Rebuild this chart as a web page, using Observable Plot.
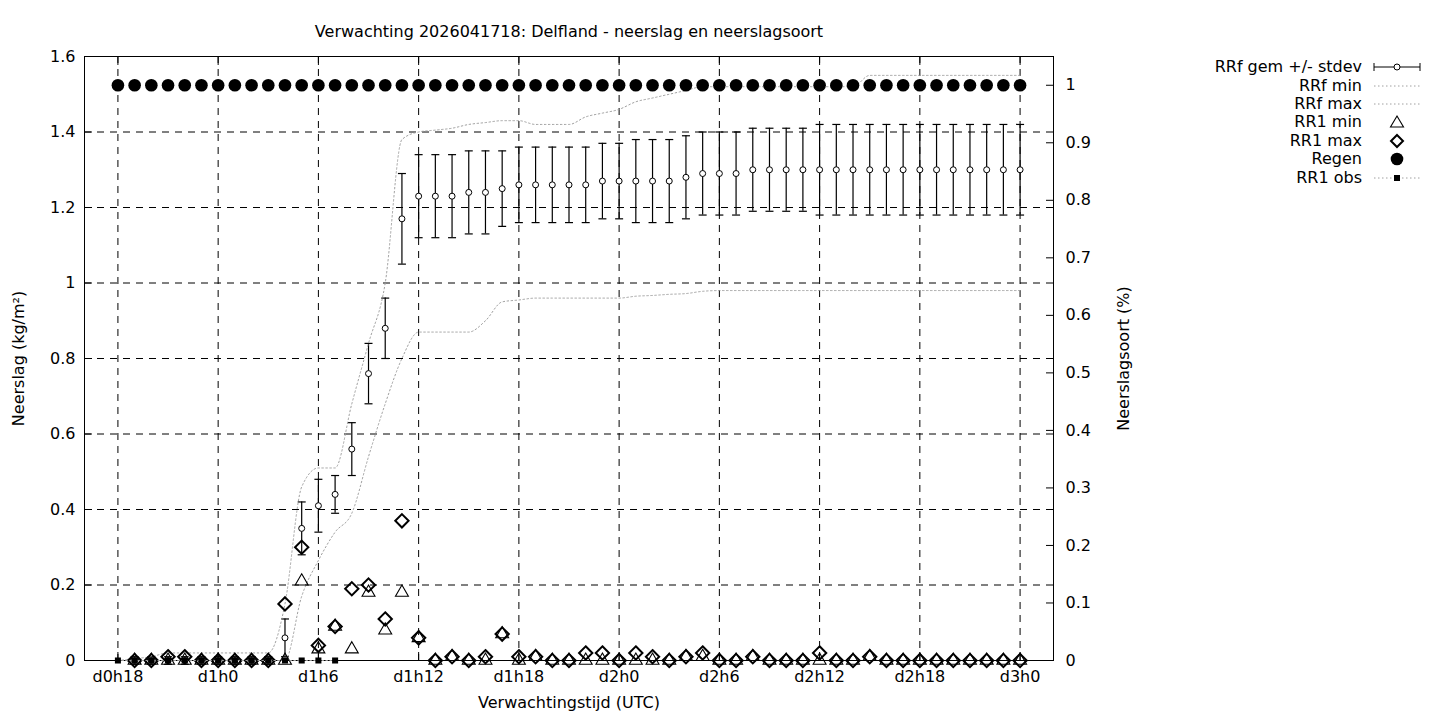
<!DOCTYPE html>
<html><head><meta charset="utf-8">
<script src="https://cdn.jsdelivr.net/npm/d3@7"></script>
<script src="https://cdn.jsdelivr.net/npm/@observablehq/plot@0.6"></script>
<style>
body{margin:0;background:#fff;font-family:"DejaVu Sans",sans-serif;color:#000;}
#wrap{position:relative;width:1440px;height:720px;}
#legend{position:absolute;left:1170px;top:58px;font-size:16px;}
.row{display:flex;align-items:center;height:18.4px;}
.row span{display:inline-block;width:192px;text-align:right;padding-right:10px;line-height:18px;}
.row svg{display:block;}
</style></head><body><div id="wrap"></div>
<script>
const title = "Verwachting 2026041718: Delfland - neerslag en neerslagsoort";
const xLabel = "Verwachtingstijd (UTC)";
const yLabel = "Neerslag (kg/m²)";
const y2Label = "Neerslagsoort (%)";
const xTickHours = [0, 6, 12, 18, 24, 30, 36, 42, 48, 54];
const xTickLabels = ["d0h18","d1h0","d1h6","d1h12","d1h18","d2h0","d2h6","d2h12","d2h18","d3h0"];
const yTicks = [0, 0.2, 0.4, 0.6, 0.8, 1, 1.2, 1.4, 1.6];
const y2Ticks = [0, 0.1, 0.2, 0.3, 0.4, 0.5, 0.6, 0.7, 0.8, 0.9, 1];

// hour 1..54
const rrfMean = [0,0,0,0,0,0,0,0,0, 0.06,0.35,0.41,0.44,0.56,0.76,0.88,1.17,1.23,1.23,1.23,
  1.24,1.24,1.25,1.26,1.26,1.26,1.26,1.26,1.27,1.27,1.27,1.27,1.27,1.28,1.29,1.29,1.29,
  1.30,1.30,1.30,1.30,1.30,1.30,1.30,1.30,1.30,1.30,1.30,1.30,1.30,1.30,1.30,1.30,1.30];
const rrfStdev = [0.01,0.01,0.01,0.01,0.01,0.01,0.01,0.01,0.01, 0.05,0.07,0.07,0.05,0.07,0.08,0.08,0.12,0.11,0.11,0.11,
  0.11,0.11,0.10,0.10,0.10,0.10,0.10,0.10,0.10,0.10,0.11,0.11,0.11,0.11,0.11,0.11,0.11,
  0.11,0.11,0.11,0.11,0.12,0.12,0.12,0.12,0.12,0.12,0.12,0.12,0.12,0.12,0.12,0.12,0.12];
// hour 0..54
const rrfMinCum = [0,0,0,0,0,0,0,0,0,0,0, 0.17,0.265,0.34,0.39,0.54,0.68,0.80,0.87,0.87,0.87,
  0.87,0.90,0.95,0.955,0.96,0.96,0.96,0.96,0.96,0.96,0.965,0.967,0.97,0.972,0.978,
  0.98,0.98,0.98,0.98,0.98,0.98,0.98,0.98,0.98,0.98,0.98,0.98,0.98,0.98,0.98,0.98,0.98,0.98,0.98];
const rrfMaxCum = [0,0.005,0.01,0.02,0.02,0.02,0.02,0.02,0.02,0.02, 0.15,0.46,0.51,0.51,0.68,0.84,1.00,1.38,1.40,1.405,
  1.41,1.42,1.425,1.43,1.43,1.42,1.42,1.42,1.44,1.45,1.46,1.48,1.49,1.50,1.51,1.52,
  1.52,1.52,1.52,1.52,1.52,1.52,1.52,1.52,1.52,1.55,1.55,1.55,1.55,1.55,1.55,1.55,1.55,1.55,1.55];
// hour 1..54
const rr1Min = [0,0,0,0,0,0,0,0,0, 0,0.21,0.03,0.09,0.03,0.18,0.08,0.18,0.06,0,0.01,
  0,0,0.07,0,0.01,0,0,0,0,0,0,0,0,0.01,0.01,0,0,
  0.01,0,0,0,0,0,0,0.01,0,0,0,0,0,0,0,0,0];
const rr1Max = [0,0,0.01,0.01,0,0,0,0,0, 0.15,0.30,0.04,0.09,0.19,0.20,0.11,0.37,0.06,0,0.01,
  0,0.01,0.07,0.01,0.01,0,0,0.02,0.02,0,0.02,0.01,0,0.01,0.02,0,0,
  0.01,0,0,0,0.02,0,0,0.01,0,0,0,0,0,0,0,0,0];
// hour 0..54, fraction (right axis)
const regen = [1,1,1,1,1,1,1,1,1,1,1,1,1,1,1,1,1,1,1,1,1,1,1,1,1,1,1,1,1,1,1,1,1,1,1,1,1,1,1,1,1,1,1,1,1,1,1,1,1,1,1,1,1,1,1];
// hour 0..13
const rr1Obs = [0,0,0,0,0,0,0,0,0,0,0,0,0,0];

const Y2 = 1.6 / 1.05;
const meanData = rrfMean.map((m, i) => ({h: i + 1, m, s: rrfStdev[i]}));
const minCum = rrfMinCum.map((v, i) => ({h: i, v}));
const maxCum = rrfMaxCum.map((v, i) => ({h: i, v}));
const rmin = rr1Min.map((v, i) => ({h: i + 1, v}));
const rmax = rr1Max.map((v, i) => ({h: i + 1, v}));
const reg = regen.map((v, i) => ({h: i, v: v * Y2}));
const obs = rr1Obs.map((v, i) => ({h: i, v}));
const cap = {draw(ctx, size) { const w = Math.sqrt(size / Math.PI); ctx.moveTo(-w, 0); ctx.lineTo(w, 0); }};
const fmt = d => String(+(+d).toFixed(1));
const dotted = {stroke: "#a0a0a0", strokeWidth: 1, strokeDasharray: "1.5,2.5"};

const chart = Plot.plot({
  width: 1440, height: 720,
  marginLeft: 84, marginRight: 387, marginTop: 56, marginBottom: 60,
  style: {fontFamily: "DejaVu Sans", fontSize: "16px", color: "black", background: "white"},
  x: {domain: [-2, 56]},
  y: {domain: [0, 1.6]},
  marks: [
    Plot.ruleX(xTickHours, {x: d => d, stroke: "black", strokeDasharray: "7,6"}),
    Plot.ruleY(yTicks, {y: d => d, stroke: "black", strokeDasharray: "7,6"}),
    Plot.axisX(xTickHours, {anchor: "bottom", tickSize: 0, tickPadding: 10, fontSize: 16, tickFormat: d => xTickLabels[xTickHours.indexOf(d)], label: null}),
    Plot.axisX(xTickHours, {anchor: "bottom", tickSize: -8, tickFormat: () => "", label: null}),
    Plot.axisX(xTickHours, {anchor: "top", tickSize: -8, tickFormat: () => "", label: null}),
    Plot.axisY(yTicks, {anchor: "left", tickSize: 0, tickPadding: 9, fontSize: 16, tickFormat: fmt, label: null}),
    Plot.axisY(yTicks, {anchor: "left", tickSize: -8, tickFormat: () => "", label: null}),
    Plot.axisY(y2Ticks.map(t => t * Y2), {anchor: "right", tickSize: 0, tickPadding: 12, fontSize: 16, tickFormat: d => fmt(d / Y2), label: null}),
    Plot.axisY(y2Ticks.map(t => t * Y2), {anchor: "right", tickSize: -8, tickFormat: () => "", label: null}),
    Plot.frame({stroke: "black", strokeWidth: 1}),
    // error bars
    Plot.ruleX(meanData, {x: "h", y1: d => d.m - d.s, y2: d => d.m + d.s, stroke: "black", strokeWidth: 1.2}),
    Plot.dot(meanData, {x: "h", y: d => d.m - d.s, symbol: cap, r: 4, stroke: "black", fill: "none", strokeWidth: 1.2}),
    Plot.dot(meanData, {x: "h", y: d => d.m + d.s, symbol: cap, r: 4, stroke: "black", fill: "none", strokeWidth: 1.2}),
    Plot.dot(meanData, {x: "h", y: "m", r: 3, fill: "white", stroke: "black", strokeWidth: 1}),
    Plot.line(minCum, {x: "h", y: "v", curve: "monotone-x", ...dotted}),
    Plot.line(maxCum, {x: "h", y: "v", curve: "monotone-x", ...dotted}),
    Plot.dot(rmin, {x: "h", y: "v", symbol: "triangle", r: 4.8, fill: "none", stroke: "black", strokeWidth: 1.1}),
    Plot.dot(rmax, {x: "h", y: "v", symbol: "diamond2", r: 6, fill: "none", stroke: "black", strokeWidth: 2}),
    Plot.dot(reg, {x: "h", y: "v", r: 6.3, fill: "black", stroke: "none"}),
    Plot.line(obs, {x: "h", y: "v", ...dotted}),
    Plot.dot(obs, {x: "h", y: "v", symbol: "square", r: 3.4, fill: "black", stroke: "none"}),
    // titles
    Plot.text([title], {text: d => d, frameAnchor: "top", dy: -31, fontSize: 16, textAnchor: "middle"}),
    Plot.text([xLabel], {text: d => d, frameAnchor: "bottom", dy: 47, fontSize: 16, textAnchor: "middle"}),
    Plot.text([yLabel], {text: d => d, frameAnchor: "left", dx: -66, rotate: -90, fontSize: 16, textAnchor: "middle"}),
    Plot.text([y2Label], {text: d => d, frameAnchor: "right", dx: 70, rotate: -90, fontSize: 16, textAnchor: "middle"})
  ]
});
const wrap = document.getElementById("wrap");
wrap.appendChild(chart);

// legend
const legendItems = [
  ["RRf gem +/- stdev", '<line x1="2" y1="9" x2="48" y2="9" stroke="black"/><line x1="2" y1="5" x2="2" y2="13" stroke="black"/><line x1="48" y1="5" x2="48" y2="13" stroke="black"/><circle cx="25" cy="9" r="3" fill="white" stroke="black"/>'],
  ["RRf min", '<line x1="2" y1="9" x2="48" y2="9" stroke="#a0a0a0" stroke-dasharray="1.5,2.5"/>'],
  ["RRf max", '<line x1="2" y1="9" x2="48" y2="9" stroke="#a0a0a0" stroke-dasharray="1.5,2.5"/>'],
  ["RR1 min", '<path d="M25,3 L31.5,14 L18.5,14 Z" fill="none" stroke="black" stroke-width="1.1"/>'],
  ["RR1 max", '<path d="M25,3 L31,9 L25,15 L19,9 Z" fill="none" stroke="black" stroke-width="2"/>'],
  ["Regen", '<circle cx="25" cy="9" r="6.3" fill="black"/>'],
  ["RR1 obs", '<line x1="2" y1="9" x2="48" y2="9" stroke="#a0a0a0" stroke-dasharray="1.5,2.5"/><rect x="22" y="6" width="6" height="6" fill="black"/>']
];
const leg = document.createElement("div");
leg.id = "legend";
leg.innerHTML = legendItems.map(([t, s]) => `<div class="row"><span>${t}</span><svg width="52" height="18">${s}</svg></div>`).join("");
wrap.appendChild(leg);
</script>
</body></html>
